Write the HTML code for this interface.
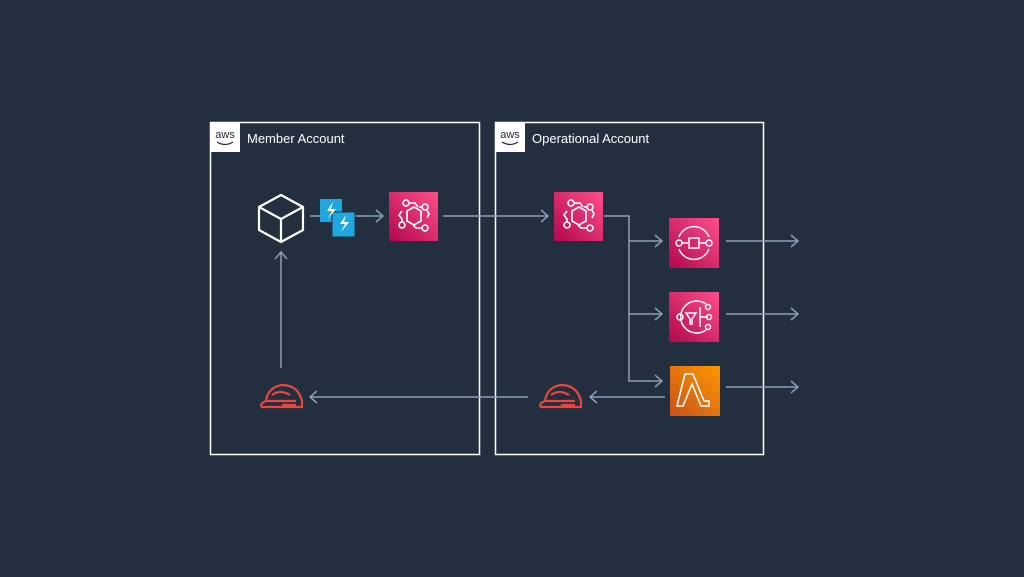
<!DOCTYPE html>
<html><head><style>
html,body{margin:0;padding:0;background:#232f3e;}
svg{display:block}
text{font-family:"Liberation Sans",sans-serif;}
</style></head><body>
<svg width="1024" height="577" viewBox="0 0 1024 577" xmlns="http://www.w3.org/2000/svg">
<defs>
<linearGradient id="pk" x1="0" y1="1" x2="1" y2="0"><stop offset="0" stop-color="#b0084d"/><stop offset="1" stop-color="#ff4f8b"/></linearGradient>
<linearGradient id="or" x1="0" y1="1" x2="1" y2="0"><stop offset="0" stop-color="#c8511b"/><stop offset="1" stop-color="#ff9900"/></linearGradient>
<g id="aws"><rect width="30" height="30" fill="#fff"/><text x="15" y="16" font-size="11" text-anchor="middle" fill="#232f3e">aws</text><path d="M7 20 q8 5 16 0" stroke="#232f3e" fill="none" stroke-width="1.2"/></g>
<g id="eb" fill="none" stroke="#fff" stroke-width="1.6">
<polygon points="25,15 32,19 32,29 25,33 18,29 18,19"/>
<circle cx="17" cy="11" r="3"/><circle cx="36" cy="36" r="3"/><circle cx="13" cy="33" r="3"/><circle cx="36" cy="15" r="3"/>
<path d="M20 11 h6 l3 4 M33 15 h-3 M38 18 l2 4 -2 4 M33 36 h-6 l-3 -3 M13 30 v-3 l-3 -4 3-4"/>
</g>
<g id="helm" fill="none" stroke="#e7473f" stroke-width="2.2"><path d="M4 26 q-3 -3 4 -6 q2 -14 16 -16 q16 0 20 16 v6 z M8 20 h30 M14 14 q8 -6 18 0 M24 24 h14"/></g>
<g id="ah" fill="none" stroke="#8aa0b8" stroke-width="1.5"><path d="M-7 -6 L0 0 L-7 6"/></g>
</defs>
<g fill="none" stroke="#fff" stroke-width="1.5">
<rect x="210.5" y="122.5" width="269" height="332"/>
<rect x="495.5" y="122.5" width="268" height="332"/>
</g>
<use href="#aws" x="210" y="122"/><use href="#aws" x="495" y="122"/>
<text x="247" y="143" font-size="13" fill="#fff">Member Account</text>
<text x="532" y="143" font-size="13" fill="#fff">Operational Account</text>
<g stroke="#8aa0b8" stroke-width="1.5" fill="none">
<path d="M310 216 H383 M443 216 H548 M604 216 H629 V381 H662 M629 241 H662 M629 314 H662 M726 241 H798 M726 314 H798 M726 387 H798 M665 397 H590 M528 397 H310 M281 368 V252"/>
</g>
<use href="#ah" transform="translate(383,216)"/><use href="#ah" transform="translate(548,216)"/>
<use href="#ah" transform="translate(662,241)"/><use href="#ah" transform="translate(662,314)"/><use href="#ah" transform="translate(662,381)"/>
<use href="#ah" transform="translate(798,241)"/><use href="#ah" transform="translate(798,314)"/><use href="#ah" transform="translate(798,387)"/>
<use href="#ah" transform="translate(590,397) rotate(180)"/><use href="#ah" transform="translate(310,397) rotate(180)"/>
<use href="#ah" transform="translate(281,252) rotate(-90)"/>
<g fill="none" stroke="#fff" stroke-width="2.2" stroke-linejoin="round"><path d="M281 195 L303 207 V230 L281 242 L259 230 V207 Z M259 207 L281 219 L303 207 M281 219 V242"/></g>
<rect x="320" y="199" width="22" height="23" fill="#1fa8e0"/><rect x="332" y="212" width="23" height="25" fill="#1fa8e0" stroke="#232f3e" stroke-width="1"/>
<path d="M333 202 l-6 9 h5 l-4 8 8-10 h-5 z M346 215 l-6 9 h5 l-4 8 8-10 h-5 z" fill="#fff"/>
<rect x="389" y="192" width="49" height="49" fill="url(#pk)"/><use href="#eb" x="389" y="192"/>
<rect x="554" y="192" width="49" height="49" fill="url(#pk)"/><use href="#eb" x="554" y="192"/>
<rect x="669" y="218" width="50" height="50" fill="url(#pk)"/>
<g fill="none" stroke="#fff" stroke-width="1.5"><path d="M679 237 a16 16 0 0 1 30 0 M679 249 a16 16 0 0 0 30 0"/><circle cx="679" cy="243" r="3"/><circle cx="709" cy="243" r="3"/><rect x="689" y="238" width="10" height="10"/><path d="M682 243 h6 M700 243 h6"/></g>
<rect x="669" y="292" width="50" height="50" fill="url(#pk)"/>
<g fill="none" stroke="#fff" stroke-width="1.5"><path d="M706 304 a16 16 0 1 0 0 26"/><circle cx="680" cy="317" r="3"/><path d="M686 313 h10 l-4 6 v5 h-2 v-5 z M700 307 v20 M700 317 h8"/><circle cx="708" cy="307" r="2.5"/><circle cx="709" cy="317" r="2.5"/><circle cx="708" cy="327" r="2.5"/></g>
<rect x="670" y="366" width="50" height="50" fill="url(#or)"/>
<path d="M685 374 h8 l11 27 h5 v5 h-8 l-9 -22 -9 22 h-6 z" fill="none" stroke="#fff" stroke-width="1.6" stroke-linejoin="round"/>
<use href="#helm" x="258" y="381"/><use href="#helm" x="537" y="381"/>
</svg>
</body></html>
